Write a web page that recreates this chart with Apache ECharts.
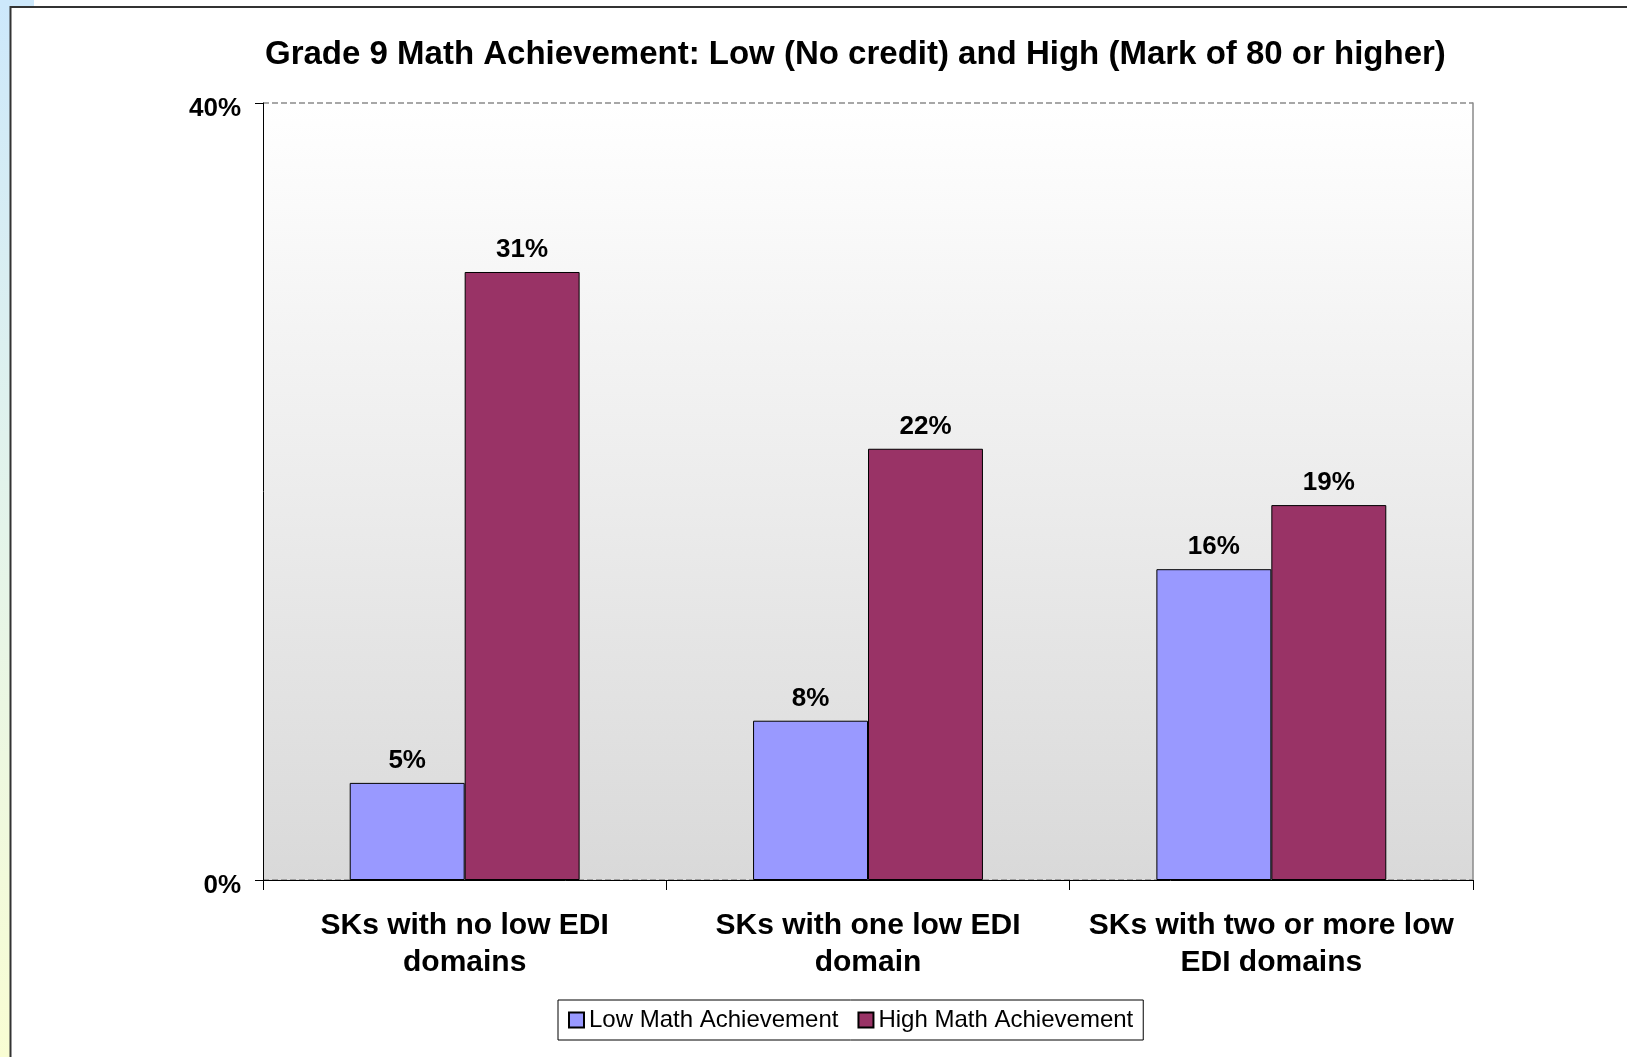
<!DOCTYPE html>
<html>
<head>
<meta charset="utf-8">
<script src="https://cdn.jsdelivr.net/npm/echarts@6/dist/echarts.min.js"></script>
<style>
html,body{margin:0;padding:0;background:#fff;}
#chart{width:1627px;height:1057px;}
</style>
</head>
<body>
<div id="chart"></div>
<script>
const titleText = 'Grade 9 Math Achievement: Low (No credit) and High (Mark of 80 or higher)';
const categories = ['SKs with no low EDI\ndomains', 'SKs with one low EDI\ndomain', 'SKs with two or more low\nEDI domains'];
const seriesNames = ['Low Math Achievement', 'High Math Achievement'];
const lowValues = [5.0, 8.2, 16.0];
const highValues = [31.3, 22.2, 19.3];
const yTicks = [0, 40];

const FONT = '"Liberation Sans", Arial, sans-serif';
const chart = echarts.init(document.getElementById('chart'));

const labelOpt = {
  show: true, position: 'top', distance: 9,
  fontFamily: FONT, fontWeight: 'bold', fontSize: 26, color: '#000',
  formatter: p => Math.round(p.value) + '%'
};

chart.setOption({
  backgroundColor: '#fff',
  animation: false,
  graphic: [
    { type: 'rect', z: -10, silent: true, shape: { x: 0, y: 0, width: 11, height: 1057 },
      style: { fill: new echarts.graphic.LinearGradient(0, 0, 0, 1, [
        { offset: 0, color: '#cde8fb' }, { offset: 0.5, color: '#e4f4ea' }, { offset: 1, color: '#f9fdd3' }]) } },
    { type: 'rect', z: -10, silent: true, shape: { x: 0, y: 0, width: 34, height: 7 },
      style: { fill: '#cde8fb' } },
    { type: 'rect', z: -9, silent: true, shape: { x: 10.5, y: 7, width: 1700, height: 1200 },
      style: { fill: '#fff', stroke: '#333', lineWidth: 2 } }
  ],
  title: {
    text: titleText,
    left: 265, top: 38, padding: 0,
    textStyle: { fontFamily: FONT, fontWeight: 'bold', fontSize: 33, color: '#000' }
  },
  legend: {
    data: seriesNames,
    left: 558, top: 1000,
    padding: [8, 10, 8, 10],
    itemGap: 19,
    itemWidth: 15, itemHeight: 15,
    icon: 'rect',
    borderColor: '#000', borderWidth: 1,
    backgroundColor: '#fff',
    textStyle: { fontFamily: FONT, fontSize: 24, color: '#000', padding: [0, 0, 0, 0] }
  },
  grid: {
    left: 263, right: 154, top: 103, bottom: 177,
    show: true, borderWidth: 0,
    backgroundColor: new echarts.graphic.LinearGradient(0, 0, 0, 1, [
      { offset: 0, color: '#ffffff' }, { offset: 1, color: '#d9d9d9' }])
  },
  xAxis: {
    type: 'category',
    data: categories,
    axisLine: { show: true, lineStyle: { color: '#000', width: 1 } },
    axisTick: { show: true, length: 10, lineStyle: { color: '#000' } },
    axisLabel: {
      margin: 27, interval: 0,
      fontFamily: FONT, fontWeight: 'bold', fontSize: 30, lineHeight: 37, color: '#000'
    }
  },
  yAxis: [{
    type: 'value', min: yTicks[0], max: yTicks[1], interval: yTicks[1] - yTicks[0],
    axisLine: { show: true, lineStyle: { color: '#000', width: 1 } },
    axisTick: { show: true, length: 8, lineStyle: { color: '#000' } },
    axisLabel: {
      margin: 22, formatter: '{a|{value}%}',
      rich: { a: { fontFamily: FONT, fontWeight: 'bold', fontSize: 26, color: '#000', padding: [11, 0, 0, 0] } },
      fontFamily: FONT, fontWeight: 'bold', fontSize: 26, color: '#000'
    },
    splitLine: { show: true, lineStyle: { color: '#8a8a8a', type: [6, 3], width: 1.5 } }
  }, {
    type: 'value', min: yTicks[0], max: yTicks[1], position: 'right',
    axisLine: { show: true, lineStyle: { color: '#8a8a8a', width: 1.5 } },
    axisTick: { show: false }, axisLabel: { show: false }, splitLine: { show: false }
  }],
  series: [{
    name: seriesNames[0], type: 'bar', data: lowValues,
    barGap: '0%', barCategoryGap: '43%',
    itemStyle: { color: '#9999ff', borderColor: '#000', borderWidth: 1 },
    label: labelOpt
  }, {
    name: seriesNames[1], type: 'bar', data: highValues,
    barGap: '0%', barCategoryGap: '43%',
    itemStyle: { color: '#993366', borderColor: '#000', borderWidth: 1 },
    label: labelOpt
  }]
});
</script>
</body>
</html>
